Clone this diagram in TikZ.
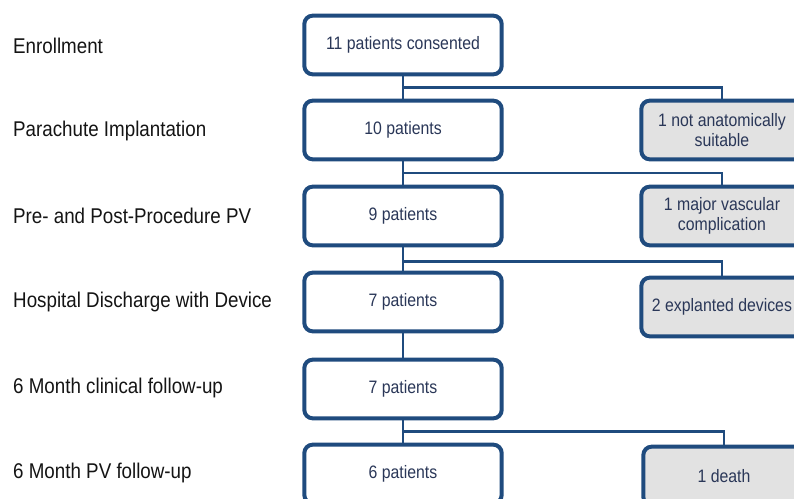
\documentclass[tikz,border=0pt]{standalone}
\usepackage{fontspec}
\setmainfont[FakeStretch=0.88]{Liberation Sans}
\usetikzlibrary{calc}
\definecolor{navy}{HTML}{1F4B7E}
\definecolor{boxtext}{HTML}{2A3758}
\definecolor{stage}{HTML}{141414}
\definecolor{dropfill}{HTML}{E2E2E2}
\tikzset{
  mainbox/.style={draw=navy,line width=3pt,rounded corners=2.2mm,fill=white,
    minimum width=148pt,minimum height=44pt,inner sep=2pt,text=boxtext,
    font=\fontsize{13.5}{14.5}\selectfont,align=center},
  dropbox/.style={mainbox,fill=dropfill,minimum width=121pt},
  stagelabel/.style={anchor=west,text=stage,font=\fontsize{16}{18}\selectfont},
  link/.style={draw=navy,line width=2.2pt},
}

\begin{document}
\begin{tikzpicture}[x=0.75pt,y=-0.75pt]
  \useasboundingbox (0,0) rectangle (794,499);
  \clip (0,0) rectangle (794,499);

  % stage labels
  \node[stagelabel] (lab1) at (8.5,46) {Enrollment};
  \node[stagelabel] (lab2) at (8.5,131) {Parachute Implantation};
  \node[stagelabel] (lab3) at (8.5,216) {Pre- and Post-Procedure PV};
  \node[stagelabel] (lab4) at (8.5,302) {Hospital Discharge with Device};
  \node[stagelabel] (lab5) at (8.5,388) {6 Month clinical follow-up};
  \node[stagelabel] (lab6) at (8.5,473) {6 Month PV follow-up};

  % patient counts
  \node[mainbox] (main1) at (403,45) {11 patients consented};
  \node[mainbox] (main2) at (403,130) {10 patients};
  \node[mainbox] (main3) at (403,216) {9 patients};
  \node[mainbox] (main4) at (403,302) {7 patients};
  \node[mainbox] (main5) at (403,389) {7 patients};
  \node[mainbox] (main6) at (403,474) {6 patients};

  % drop-outs
  \node[dropbox] (drop1) at (722,130) {1 not anatomically\\suitable};
  \node[dropbox] (drop2) at (722,216) {1 major vascular\\complication};
  \node[dropbox] (drop3) at (722,307) {2 explanted devices};
  \node[dropbox] (drop4) at (724,476) {1 death};

  % trunk
  \foreach \a/\b in {1/2,2/3,3/4,4/5,5/6}
    \draw[link] (main\a) -- (main\b);

  % branches
  \draw[link] ($(main1.south)!.5!(main2.north)$) -| (drop1.north);
  \draw[link] ($(main2.south)!.5!(main3.north)$) -| (drop2.north);
  \draw[link] ($(main3.south)!.6!(main4.north)$) -| (drop3.north);
  \draw[link] ($(main5.south)!.5!(main6.north)$) -| (drop4.north);
\end{tikzpicture}
\end{document}
